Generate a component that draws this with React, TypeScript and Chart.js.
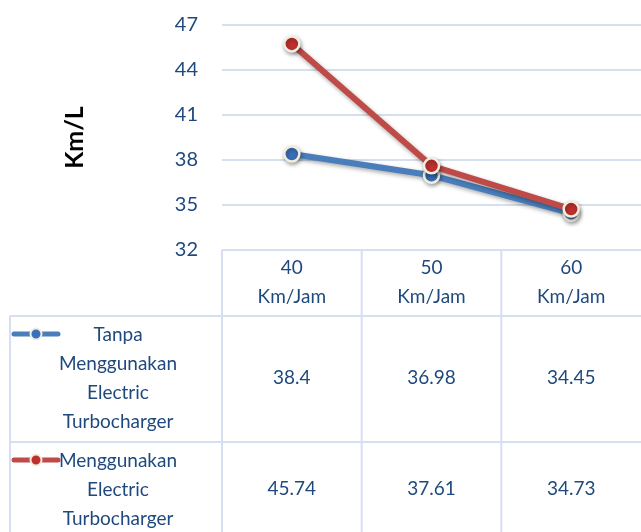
import React, { useEffect, useRef } from "react";
import { Chart, registerables } from "chart.js";

Chart.register(...registerables);

// Speeds tested and fuel consumption (Km/L) for each configuration
const speeds = ["40", "50", "60"];
const speedUnit = "Km/Jam";
const tanpaValues = [38.4, 36.98, 34.45];
const denganValues = [45.74, 37.61, 34.73];
const tanpaLabel = ["Tanpa", "Menggunakan", "Electric", "Turbocharger"];
const denganLabel = ["Menggunakan", "Electric", "Turbocharger"];
const yTicks = [32, 35, 38, 41, 44, 47];

const TEXT_BLUE = "#1F497D";
const GRID = "#D5DFEF";
const BLUE_LINE = "#4A7EBB";
const RED_LINE = "#BE4B48";
const BLUE_DOT = "#3A70B8";
const RED_DOT = "#C0302E";
const DOT_RIM = "#F1EEDF";
const TABLE_FONT = "19px Lato";

const seriesLines = [tanpaLabel, denganLabel];

// Soft drop shadow behind lines and markers
const shadowPlugin = {
  id: "softShadow",
  beforeDatasetDraw(chart: any) {
    const ctx = chart.ctx;
    ctx.save();
    ctx.shadowColor = "rgba(0,0,0,0.35)";
    ctx.shadowBlur = 4;
    ctx.shadowOffsetX = 1;
    ctx.shadowOffsetY = 2;
  },
  afterDatasetDraw(chart: any) {
    chart.ctx.restore();
  },
};

// Data table under the plot: header row with categories, one row per series
const tablePlugin = {
  id: "dataTable",
  afterDraw(chart: any) {
    const { ctx, chartArea } = chart;
    const x = chart.scales.x;
    const labels: string[] = chart.data.labels;
    const n = labels.length;
    const centers = labels.map((_: string, i: number) => x.getPixelForValue(i));
    const bounds = [chartArea.left];
    for (let i = 0; i < n - 1; i++) bounds.push((centers[i] + centers[i + 1]) / 2);
    bounds.push(chartArea.right);

    const top = chartArea.bottom;
    const headerBottom = top + 66;
    const row1Bottom = headerBottom + 126;
    const bottom = chart.height;
    const tableLeft = 10;
    const right = chart.width;

    ctx.save();
    ctx.strokeStyle = GRID;
    ctx.lineWidth = 2;
    ctx.beginPath();
    ctx.moveTo(chartArea.left, top);
    ctx.lineTo(right, top);
    ctx.moveTo(tableLeft, headerBottom);
    ctx.lineTo(right, headerBottom);
    ctx.moveTo(tableLeft, row1Bottom);
    ctx.lineTo(right, row1Bottom);
    ctx.moveTo(tableLeft, headerBottom);
    ctx.lineTo(tableLeft, bottom);
    for (let i = 0; i < bounds.length - 1; i++) {
      ctx.moveTo(bounds[i], top);
      ctx.lineTo(bounds[i], bottom);
    }
    ctx.stroke();

    ctx.fillStyle = TEXT_BLUE;
    ctx.font = TABLE_FONT;
    ctx.textAlign = "center";
    ctx.textBaseline = "middle";

    // header
    centers.forEach((cx: number, i: number) => {
      ctx.fillText(labels[i], cx, top + 18);
      ctx.fillText(speedUnit, cx, top + 47);
    });

    const rowTops = [headerBottom, row1Bottom];
    const valueOffsets = [62, 47];
    chart.data.datasets.forEach((ds: any, r: number) => {
      const rowTop = rowTops[r];
      // values
      ds.data.forEach((v: number, i: number) => {
        ctx.fillStyle = TEXT_BLUE;
        ctx.fillText(String(v), centers[i], rowTop + valueOffsets[r]);
      });
      // series name
      const lines = seriesLines[r];
      lines.forEach((t: string, k: number) => {
        ctx.fillStyle = TEXT_BLUE;
        ctx.fillText(t, 118, rowTop + 19 + 29 * k);
      });
      // legend marker
      const my = rowTop + 18;
      ctx.save();
      ctx.strokeStyle = ds.borderColor;
      ctx.lineWidth = 5;
      ctx.lineCap = "round";
      ctx.beginPath();
      ctx.moveTo(14, my);
      ctx.lineTo(58, my);
      ctx.stroke();
      ctx.beginPath();
      ctx.arc(36, my, 5.5, 0, Math.PI * 2);
      ctx.fillStyle = ds.pointBackgroundColor;
      ctx.fill();
      ctx.lineWidth = 2;
      ctx.strokeStyle = DOT_RIM;
      ctx.stroke();
      ctx.restore();
    });
    ctx.restore();
  },
};

export default function App() {
  const canvasRef = useRef<HTMLCanvasElement | null>(null);

  useEffect(() => {
    const canvas = canvasRef.current;
    if (!canvas) return;
    Chart.defaults.font.family = "Lato";
    const chart = new Chart(canvas, {
      type: "line",
      data: {
        labels: speeds,
        datasets: [
          {
            label: tanpaLabel.join(" "),
            data: tanpaValues,
            borderColor: BLUE_LINE,
            borderWidth: 6,
            pointBackgroundColor: BLUE_DOT,
            pointBorderColor: DOT_RIM,
            pointBorderWidth: 2.5,
            pointRadius: 7.5,
            order: 2,
          },
          {
            label: denganLabel.join(" "),
            data: denganValues,
            borderColor: RED_LINE,
            borderWidth: 6,
            pointBackgroundColor: RED_DOT,
            pointBorderColor: DOT_RIM,
            pointBorderWidth: 2.5,
            pointRadius: 7.5,
            order: 1,
          },
        ],
      },
      options: {
        responsive: false,
        animation: false,
        devicePixelRatio: 1,
        layout: { autoPadding: false, padding: { top: 25, right: 0, left: 0, bottom: 282 } },
        plugins: {
          legend: { display: false },
          tooltip: { enabled: false },
        },
        scales: {
          x: {
            display: false,
            offset: true,
          },
          y: {
            min: yTicks[0],
            max: yTicks[yTicks.length - 1],
            afterFit: (scale: any) => {
              scale.width = 222;
              scale.paddingTop = 0;
              scale.paddingBottom = 0;
            },
            ticks: {
              stepSize: yTicks[1] - yTicks[0],
              color: TEXT_BLUE,
              font: { size: 20, family: "Lato" },
              padding: 24,
            },
            grid: { color: GRID, lineWidth: 2, drawTicks: false },
            border: { display: false },
            title: {
              display: true,
              text: "Km/L",
              color: "#000000",
              font: { size: 25, weight: "bold", family: "Lato" },
              padding: { top: 60, bottom: 0 },
            },
          },
        },
      },
      plugins: [shadowPlugin, tablePlugin],
    });
    return () => chart.destroy();
  }, []);

  return (
    <div style={{ position: "fixed", left: 0, top: 0, width: 641, height: 532, background: "#ffffff" }}>
      <canvas ref={canvasRef} width={641} height={532} />
    </div>
  );
}
